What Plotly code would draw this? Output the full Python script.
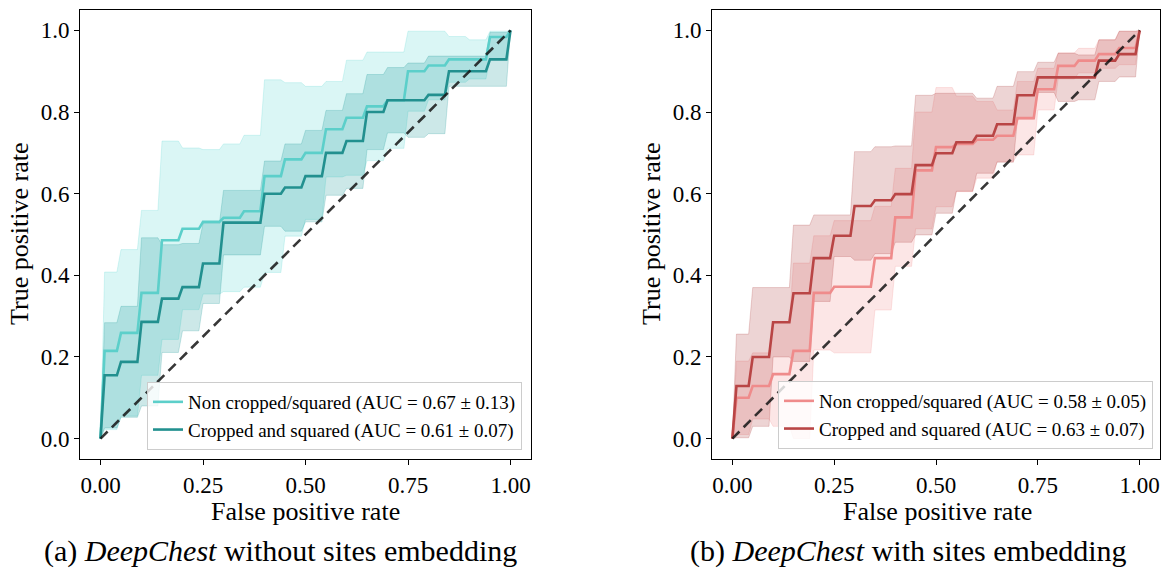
import plotly.graph_objects as go

# ---------------- data ----------------
FPR = [0.0, 0.01, 0.04, 0.05, 0.09, 0.10, 0.14, 0.15, 0.19, 0.20, 0.24,
       0.25, 0.29, 0.30, 0.34, 0.35, 0.39, 0.40, 0.44, 0.45, 0.49, 0.50,
       0.54, 0.55, 0.59, 0.60, 0.64, 0.65, 0.69, 0.70, 0.74, 0.75, 0.79,
       0.80, 0.84, 0.85, 0.89, 0.90, 0.94, 0.95, 0.99, 1.0]

# plateau values (one per 0.05-wide step of the mean ROC)
A_NC_MEAN = [0.215, 0.259, 0.357, 0.486, 0.514, 0.531, 0.541, 0.557, 0.643, 0.684,
             0.700, 0.758, 0.786, 0.814, 0.829, 0.900, 0.914, 0.929, 0.929, 0.984]
A_NC_UP = [0.408, 0.463, 0.559, 0.729, 0.712, 0.708, 0.722, 0.743, 0.879, 0.872,
           0.863, 0.875, 0.927, 0.947, 0.947, 0.998, 0.998, 0.985, 0.977, 0.998]
A_NC_LO = [0.022, 0.055, 0.155, 0.243, 0.316, 0.354, 0.360, 0.371, 0.407, 0.496,
           0.537, 0.641, 0.645, 0.681, 0.711, 0.802, 0.830, 0.873, 0.881, 0.930]

A_C_MEAN = [0.155, 0.188, 0.286, 0.343, 0.371, 0.429, 0.529, 0.529, 0.600, 0.615,
            0.643, 0.700, 0.729, 0.800, 0.829, 0.829, 0.842, 0.900, 0.900, 0.929]
A_C_UP = [0.284, 0.324, 0.492, 0.475, 0.478, 0.527, 0.608, 0.608, 0.680, 0.722,
          0.755, 0.804, 0.845, 0.892, 0.909, 0.920, 0.937, 0.937, 0.937, 0.995]
A_C_LO = [0.026, 0.052, 0.080, 0.211, 0.264, 0.331, 0.450, 0.450, 0.520, 0.508,
          0.531, 0.596, 0.613, 0.708, 0.749, 0.738, 0.747, 0.863, 0.863, 0.863]

B_NC_MEAN = [0.100, 0.129, 0.158, 0.215, 0.357, 0.372, 0.372, 0.442, 0.542, 0.657,
             0.714, 0.722, 0.732, 0.742, 0.785, 0.856, 0.913, 0.926, 0.942, 0.957]
B_NC_UP = [0.190, 0.210, 0.286, 0.430, 0.497, 0.534, 0.534, 0.569, 0.662, 0.800,
           0.860, 0.839, 0.826, 0.805, 0.875, 0.907, 0.945, 0.956, 0.977, 0.998]
B_NC_LO = [0.010, 0.048, 0.030, 0.000, 0.217, 0.210, 0.210, 0.315, 0.422, 0.514,
           0.568, 0.605, 0.638, 0.679, 0.695, 0.805, 0.881, 0.896, 0.907, 0.916]

B_C_MEAN = [0.129, 0.200, 0.285, 0.356, 0.442, 0.497, 0.570, 0.584, 0.599, 0.670,
            0.699, 0.726, 0.742, 0.770, 0.841, 0.885, 0.885, 0.885, 0.926, 0.942]
B_C_UP = [0.256, 0.370, 0.370, 0.523, 0.548, 0.548, 0.703, 0.715, 0.717, 0.841,
          0.846, 0.846, 0.834, 0.863, 0.899, 0.922, 0.944, 0.940, 0.977, 0.998]
B_C_LO = [0.002, 0.030, 0.200, 0.189, 0.336, 0.446, 0.437, 0.453, 0.481, 0.499,
          0.552, 0.606, 0.650, 0.677, 0.783, 0.848, 0.826, 0.830, 0.875, 0.886]

LABEL_NC_A = "Non cropped/squared (AUC = 0.67 ± 0.13)"
LABEL_C_A = "Cropped and squared (AUC = 0.61 ± 0.07)"
LABEL_NC_B = "Non cropped/squared (AUC = 0.58 ± 0.05)"
LABEL_C_B = "Cropped and squared (AUC = 0.63 ± 0.07)"

X_TICKS = [0.0, 0.25, 0.5, 0.75, 1.0]
Y_TICKS = [0.0, 0.2, 0.4, 0.6, 0.8, 1.0]
CAPTION_A = "(a) <i>DeepChest</i> without sites embedding"
CAPTION_B = "(b) <i>DeepChest</i> with sites embedding"

# colours
CYAN = (72, 209, 204)
TEAL = (0, 139, 139)
CORAL = (240, 128, 128)
BROWN = (165, 42, 42)
CYAN_LINE = "#5ccfca"
TEAL_LINE = "#22908f"
CORAL_LINE = "#ef8b8b"
BROWN_LINE = "#b94545"

FONT = "Liberation Serif"


def steps(plateaus):
    ys = [0.0]
    for v in plateaus:
        ys += [v, v]
    ys.append(1.0)
    return ys


def rgba(c, a):
    return f"rgba({c[0]},{c[1]},{c[2]},{a})"


fig = go.Figure()


def add_band(up, lo, col, xa, ya):
    fig.add_trace(go.Scatter(x=FPR, y=steps(up), mode="lines",
                             line=dict(color=rgba(col, 0.2), width=1),
                             showlegend=False, hoverinfo="skip", xaxis=xa, yaxis=ya))
    fig.add_trace(go.Scatter(x=FPR, y=steps(lo), mode="lines", fill="tonexty",
                             fillcolor=rgba(col, 0.2),
                             line=dict(color=rgba(col, 0.2), width=1),
                             showlegend=False, hoverinfo="skip", xaxis=xa, yaxis=ya))


def add_mean(m, color, name, xa, ya, legend, group):
    fig.add_trace(go.Scatter(x=FPR, y=steps(m), mode="lines", name=name,
                             line=dict(color=color, width=2.6),
                             legend=legend, legendgroup=group,
                             xaxis=xa, yaxis=ya))


def add_diag(xa, ya):
    fig.add_trace(go.Scatter(x=[0, 1], y=[0, 1], mode="lines",
                             line=dict(color="rgba(20,20,20,0.85)", width=2.6, dash="10px,6px"),
                             showlegend=False, hoverinfo="skip", xaxis=xa, yaxis=ya))


# left panel
add_band(A_NC_UP, A_NC_LO, CYAN, "x", "y")
add_band(A_C_UP, A_C_LO, TEAL, "x", "y")
add_mean(A_NC_MEAN, CYAN_LINE, LABEL_NC_A, "x", "y", "legend", "a1")
add_mean(A_C_MEAN, TEAL_LINE, LABEL_C_A, "x", "y", "legend", "a2")
add_diag("x", "y")

# right panel
add_band(B_NC_UP, B_NC_LO, CORAL, "x2", "y2")
add_band(B_C_UP, B_C_LO, BROWN, "x2", "y2")
add_mean(B_NC_MEAN, CORAL_LINE, LABEL_NC_B, "x2", "y2", "legend2", "b1")
add_mean(B_C_MEAN, BROWN_LINE, LABEL_C_B, "x2", "y2", "legend2", "b2")
add_diag("x2", "y2")

W, H = 1162, 569
ytop = 1 - 10 / H
ybot = 1 - 459 / H

axis_common = dict(range=[-0.05, 1.05], showline=True, mirror=True, linecolor="black",
                   linewidth=1, ticks="outside", ticklen=5, tickcolor="black",
                   showgrid=False, zeroline=False,
                   tickfont=dict(family=FONT, size=23, color="black"))

leg_font = dict(family=FONT, size=19, color="black")
fig.update_layout(
    width=W, height=H, margin=dict(l=0, r=0, t=0, b=0),
    paper_bgcolor="white", plot_bgcolor="white",
    xaxis=dict(domain=[80 / W, 531 / W], anchor="y", tickvals=X_TICKS,
               tickformat=".2f", **axis_common),
    yaxis=dict(domain=[ybot, ytop], anchor="x", tickvals=Y_TICKS,
               tickformat=".1f", **axis_common),
    xaxis2=dict(domain=[712 / W, 1160 / W], anchor="y2", tickvals=X_TICKS,
                tickformat=".2f", **axis_common),
    yaxis2=dict(domain=[ybot, ytop], anchor="x2", tickvals=Y_TICKS,
                tickformat=".1f", **axis_common),
    legend=dict(x=522 / W, xanchor="right", y=1 - 450 / H, yanchor="bottom",
                bgcolor="rgba(255,255,255,0.8)", bordercolor="#cccccc", borderwidth=1,
                font=leg_font, tracegroupgap=0),
    legend2=dict(x=1153 / W, xanchor="right", y=1 - 449 / H, yanchor="bottom",
                 bgcolor="rgba(255,255,255,0.8)", bordercolor="#cccccc", borderwidth=1,
                 font=leg_font, tracegroupgap=0),
)

ann_font = dict(family=FONT, size=26, color="black")
cap_font = dict(family=FONT, size=30, color="black")
fig.add_annotation(text="True positive rate", x=20 / W, y=1 - 234 / H, xref="paper", yref="paper",
                   textangle=-90, showarrow=False, font=ann_font, xanchor="center", yanchor="middle")
fig.add_annotation(text="True positive rate", x=652 / W, y=1 - 234 / H, xref="paper", yref="paper",
                   textangle=-90, showarrow=False, font=ann_font, xanchor="center", yanchor="middle")
fig.add_annotation(text="False positive rate", x=305 / W, y=1 - 511 / H, xref="paper", yref="paper",
                   showarrow=False, font=ann_font, xanchor="center", yanchor="middle")
fig.add_annotation(text="False positive rate", x=937 / W, y=1 - 511 / H, xref="paper", yref="paper",
                   showarrow=False, font=ann_font, xanchor="center", yanchor="middle")
fig.add_annotation(text=CAPTION_A, x=280 / W, y=1 - 551 / H, xref="paper", yref="paper",
                   showarrow=False, font=cap_font, xanchor="center", yanchor="middle")
fig.add_annotation(text=CAPTION_B, x=908 / W, y=1 - 551 / H, xref="paper", yref="paper",
                   showarrow=False, font=cap_font, xanchor="center", yanchor="middle")

fig.write_html("out.html")
